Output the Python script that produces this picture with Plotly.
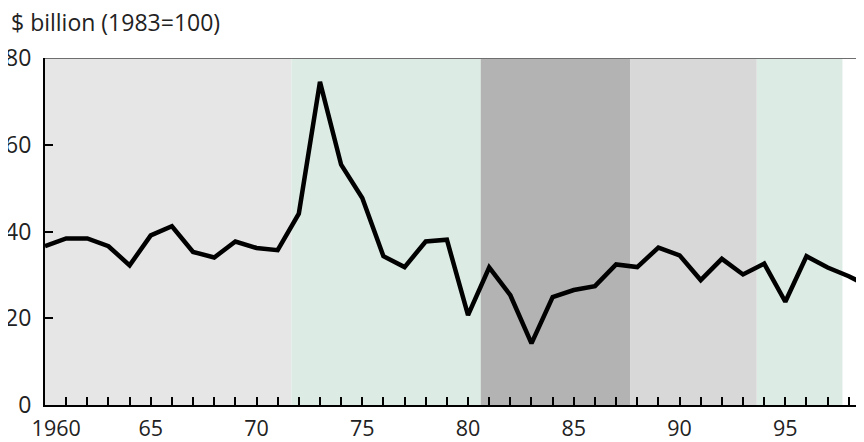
import plotly.graph_objects as go

years = list(range(1960, 2000))
values = [36.6, 38.4, 38.4, 36.6, 32.2, 39.1, 41.2, 35.3, 34.0, 37.7,
          36.2, 35.7, 44.1, 74.5, 55.4, 47.7, 34.3, 31.8, 37.7, 38.1,
          20.7, 31.7, 25.3, 14.2, 24.9, 26.5, 27.4, 32.4, 31.8, 36.3,
          34.5, 28.8, 33.7, 30.1, 32.6, 23.8, 34.3, 31.7, 29.7, 27.2]

band_starts = [1960, 1971.66, 1980.6, 1987.66, 1993.65]
band_ends = [1971.66, 1980.6, 1987.66, 1993.65, 1997.7]
band_colors = ["#e6e6e6", "#dcebe4", "#b3b3b3", "#d8d8d8", "#dcebe4"]

x_tick_years = list(range(1960, 1999))
x_tick_text = [("\u00a0\u00a0\u00a0\u00a01960" if y == 1960 else str(y % 100)) if y % 5 == 0 else ""
               for y in x_tick_years]
y_ticks = [0, 20, 40, 60, 80]

FONT = "Open Sans"
TXT = "#222222"
FS = 23

fig = go.Figure()
fig.add_trace(go.Scatter(x=years, y=values, mode="lines",
                         line=dict(color="#000000", width=4.5),
                         hoverinfo="skip", showlegend=False))

shapes = []
for x0, x1, c in zip(band_starts, band_ends, band_colors):
    shapes.append(dict(type="rect", xref="x", yref="y", x0=x0, x1=x1, y0=0, y1=80,
                       fillcolor=c, line=dict(width=0), layer="below"))
shapes.append(dict(type="line", xref="paper", yref="y", x0=0, x1=1, y0=80, y1=80,
                   line=dict(color="#6e6e6e", width=2)))

# page body keeps its default 8px margin, so the figure is sized to fit the window
fig.update_layout(
    width=856, height=434,
    margin=dict(l=37, r=0, t=50, b=37),
    paper_bgcolor="white", plot_bgcolor="white",
    font=dict(family=FONT, size=FS, color=TXT),
    shapes=shapes,
    xaxis=dict(range=[1960, 1998.72], tickvals=x_tick_years, ticktext=x_tick_text,
               ticks="inside", ticklen=8, tickwidth=1.5, tickcolor="#000000",
               showline=True, linecolor="#000000", linewidth=2,
               showgrid=False, zeroline=False, fixedrange=True, automargin=False,
               ticklabelstandoff=3,
               tickfont=dict(family=FONT, size=21.5, color=TXT)),
    yaxis=dict(range=[0, 80], tickvals=y_ticks,
               ticks="inside", ticklen=8, tickwidth=1.5, tickcolor="#000000",
               showline=True, linecolor="#000000", linewidth=2,
               showgrid=False, zeroline=False, fixedrange=True, automargin=False,
               ticklabelstandoff=7,
               tickfont=dict(family=FONT, size=FS, color=TXT)),
    annotations=[dict(text="$ billion (1983=100)", xref="paper", yref="paper",
                      x=-36/819, y=1 + 36/347, xanchor="left", yanchor="middle",
                      showarrow=False, font=dict(family=FONT, size=FS, color=TXT))],
)

fig.write_html("out.html", config={"displayModeBar": False})
